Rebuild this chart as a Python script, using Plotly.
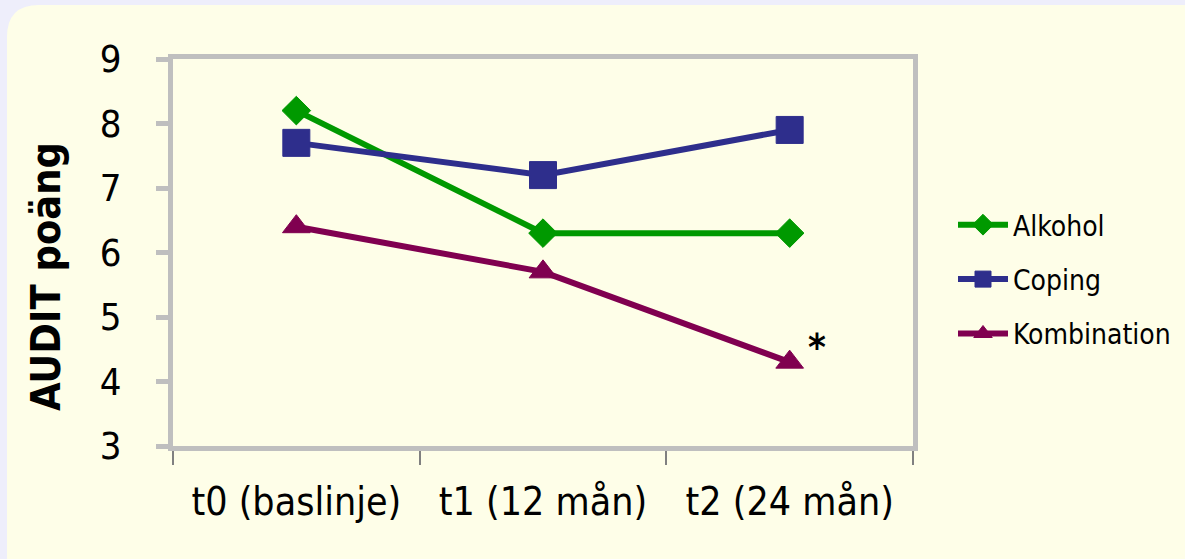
import plotly.graph_objects as go

categories = ["t0 (baslinje)", "t1 (12 mån)", "t2 (24 mån)"]
alkohol = [8.2, 6.3, 6.3]
coping = [7.7, 7.2, 7.9]
kombination = [6.4, 5.7, 4.3]
y_ticks = [3, 4, 5, 6, 7, 8, 9]

FONT = "Liberation Sans Narrow, DejaVu Sans Condensed, Arial Narrow, sans-serif"

W, H = 1185, 559
ML, MR, MT, MB = 173, 272, 59, 113
PW, PH = W - ML - MR, H - MT - MB

def px(x):
    return (x - ML) / PW

def py(y):
    return (H - MB - y) / PH

# rounded background panel
x0, x1, y0, y1, r = 7, 1215, 5, 590, 32
rx, ry = r / PW, r / PH
path = (
    f"M{px(x0)},{py(y0) - ry} "
    f"Q{px(x0)},{py(y0)} {px(x0) + rx},{py(y0)} "
    f"L{px(x1) - rx},{py(y0)} "
    f"Q{px(x1)},{py(y0)} {px(x1)},{py(y0) - ry} "
    f"L{px(x1)},{py(y1) + ry} "
    f"Q{px(x1)},{py(y1)} {px(x1) - rx},{py(y1)} "
    f"L{px(x0) + rx},{py(y1)} "
    f"Q{px(x0)},{py(y1)} {px(x0)},{py(y1) + ry} Z"
)

fig = go.Figure()
series = [
    ("Alkohol", alkohol, "#009900", "diamond", 22),
    ("Coping", coping, "#2E2E8C", "square", 27),
    ("Kombination", kombination, "#800050", "triangle-up", 24),
]
for i, (name, vals, col, sym, sz) in enumerate(series):
    fig.add_trace(go.Scatter(
        x=categories, y=vals, name=name, mode="lines+markers",
        line=dict(color=col, width=6),
        marker=dict(symbol=sym, size=sz, color=col, line=dict(color=col, width=1)),
        legendgroup=str(i), cliponaxis=False,
    ))

fig.add_annotation(x=categories[2], y=kombination[2], text="<b>*</b>", showarrow=False,
                   xshift=27, yshift=15, font=dict(size=38, color="black", family=FONT))

# y-axis title placed as rotated text
fig.add_annotation(x=px(46), y=py(277), xref="paper", yref="paper", text="<b>AUDIT poäng</b>",
                   textangle=-90, showarrow=False, xanchor="center", yanchor="middle",
                   font=dict(size=41, color="black", family=FONT))

fig.update_layout(
    width=W, height=H,
    margin=dict(l=ML, r=MR, t=MT, b=MB, autoexpand=False),
    paper_bgcolor="#EEEEFB",
    plot_bgcolor="rgba(0,0,0,0)",
    font=dict(family=FONT, color="black"),
    shapes=[dict(type="path", path=path, xref="paper", yref="paper",
                 fillcolor="#FEFEE8", line=dict(width=0), layer="below")],
    showlegend=True,
    legend=dict(x=px(953), y=py(200), xanchor="left", yanchor="top",
                bgcolor="rgba(0,0,0,0)", font=dict(size=28, family=FONT),
                tracegroupgap=15, itemwidth=50),
    xaxis=dict(
        type="category", range=[-0.5, 2.5], tickson="boundaries",
        showline=True, linecolor="#BFBFBF", linewidth=5, mirror=True,
        ticks="outside", ticklen=14, tickwidth=1.5, tickcolor="#808080",
        showgrid=False, tickfont=dict(size=39, family=FONT), zeroline=False,
        ticklabelstandoff=17, automargin=False,
    ),
    yaxis=dict(
        range=[3, 9], tickvals=y_ticks, showline=True, linecolor="#BFBFBF",
        linewidth=5, mirror=True, ticks="outside", ticklen=12, tickwidth=5,
        tickcolor="#BFBFBF", showgrid=False, zeroline=False,
        tickfont=dict(size=38, family=FONT), ticklabelstandoff=27, automargin=False,
    ),
)

fig.write_html(
    "out.html",
    config={"displayModeBar": False},
    post_script="document.body.style.margin='0';document.body.style.background='#EEEEFB';",
)
